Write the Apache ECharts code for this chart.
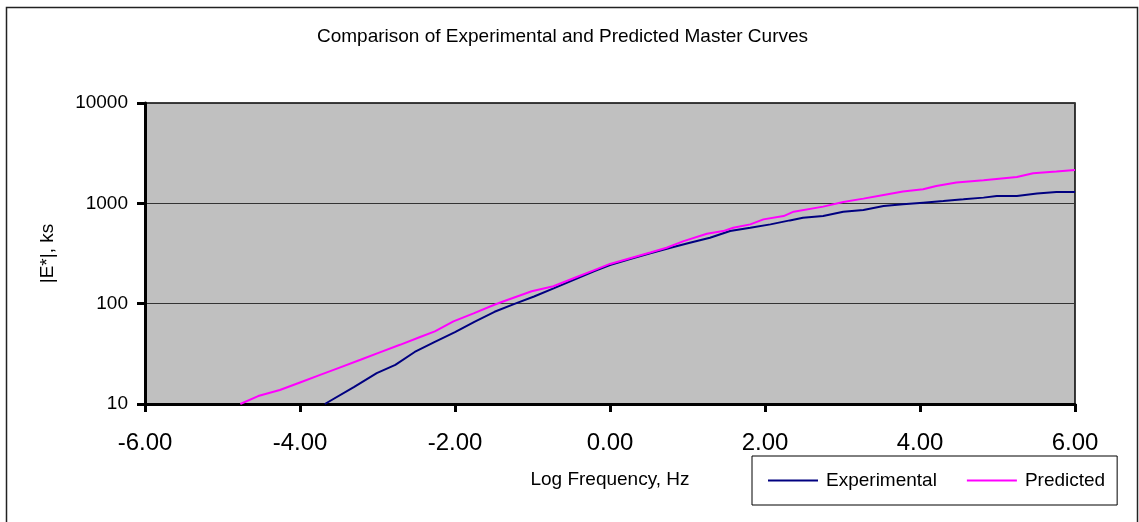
<!DOCTYPE html>
<html>
<head>
<meta charset="utf-8">
<script src="https://cdn.jsdelivr.net/npm/echarts@6/dist/echarts.min.js"></script>
<style>
    html, body { margin: 0; padding: 0; background: #fff; }
    #chart { width: 1139px; height: 522px; }
</style>
</head>
<body>
<div id="chart"></div>
<script>
// log frequency (Hz) and |E*| (ks)
var expX = [-3.68, -3.30, -3.01, -2.77, -2.52, -2.26, -2.00, -1.75, -1.49, -1.24, -0.98, -0.72, -0.46, -0.20, 0.00,
    0.26, 0.52, 0.77, 1.03, 1.29, 1.55, 1.81, 2.07, 2.32, 2.49, 2.75, 3.01, 3.27, 3.53, 3.78, 4.04, 4.30, 4.56, 4.82,
    4.99, 5.25, 5.51, 5.76, 6.00];
var expY = [10, 14.8, 20.3, 24.5, 33, 41.7, 52, 66, 83, 99, 118, 143, 174, 211, 243,
    279, 318, 359, 404, 454, 530, 571, 617, 676, 719, 747, 826, 857, 940, 977, 1016, 1055, 1096, 1140,
    1183, 1183, 1250, 1297, 1297];

var predX = [-4.77, -4.54, -4.26, -4.00, -3.74, -3.48, -3.22, -2.97, -2.71, -2.45, -2.26, -2.02, -1.76, -1.50, -1.38,
    -1.01, -0.73, -0.47, -0.21, 0.00, 0.26, 0.52, 0.73, 0.95, 1.25, 1.46, 1.59, 1.81, 1.98, 2.24, 2.37, 2.75, 3.01,
    3.27, 3.53, 3.78, 4.04, 4.21, 4.47, 4.82, 5.25, 5.46, 5.76, 6.00];
var predY = [10, 12.0, 13.8, 16.4, 19.5, 23.2, 27.6, 32.7, 38.9, 46.5, 52.9, 66.5, 80, 97, 105,
    133, 149, 179, 215, 249, 284, 324, 361, 420, 497, 529, 571, 617, 692, 747, 826, 927, 1031,
    1114, 1211, 1309, 1380, 1490, 1610, 1698, 1834, 1995, 2080, 2153];

var seriesNames = ['Experimental', 'Predicted'];

function pairs(xs, ys) {
    return xs.map(function (x, i) { return [x, ys[i]]; });
}

var chart = echarts.init(document.getElementById('chart'));
var option = {
    backgroundColor: '#fff',
    animation: false,
    textStyle: { fontFamily: 'Liberation Sans, Arial, sans-serif', color: '#000' },
    title: {
        text: 'Comparison of Experimental and Predicted Master Curves',
        left: 317,
        top: 27,
        padding: 0,
        textStyle: { fontSize: 19, fontWeight: 'normal', color: '#000' }
    },
    graphic: [{
        type: 'rect',
        shape: { x: 6.5, y: 7.5, width: 1131, height: 530 },
        style: { fill: 'none', stroke: '#222', lineWidth: 1.5 },
        silent: true
    }],
    legend: {
        left: 752,
        top: 456,
        orient: 'horizontal',
        padding: [15, 12, 15, 16],
        itemGap: 30,
        itemWidth: 50,
        itemHeight: 2,
        borderColor: '#000',
        borderWidth: 1,
        data: [
            { name: seriesNames[0], icon: 'rect' },
            { name: seriesNames[1], icon: 'rect' }
        ],
        textStyle: { fontSize: 19, color: '#000', padding: [0, 0, 0, 3] }
    },
    grid: {
        left: 145,
        right: 64,
        top: 103,
        bottom: 118,
        show: true,
        backgroundColor: '#C0C0C0',
        borderColor: '#000',
        borderWidth: 1.5
    },
    xAxis: {
        type: 'value',
        min: -6,
        max: 6,
        interval: 2,
        name: 'Log Frequency, Hz',
        nameLocation: 'middle',
        nameGap: 66,
        nameTextStyle: { fontSize: 19, color: '#000' },
        axisLine: { onZero: false, lineStyle: { color: '#000', width: 3 } },
        axisTick: { length: 8, lineStyle: { color: '#000', width: 3 } },
        axisLabel: {
            fontSize: 24,
            color: '#000',
            margin: 27,
            formatter: function (v) { return v.toFixed(2); }
        },
        splitLine: { show: false }
    },
    yAxis: {
        type: 'log',
        logBase: 10,
        min: 10,
        max: 10000,
        name: '|E*|, ks',
        nameLocation: 'middle',
        nameRotate: 90,
        nameGap: 88,
        nameTextStyle: { fontSize: 19, color: '#000' },
        axisLine: { onZero: false, lineStyle: { color: '#000', width: 3 } },
        axisTick: { length: 8, lineStyle: { color: '#000', width: 3 } },
        axisLabel: {
            fontSize: 19,
            color: '#000',
            margin: 17,
            formatter: function (v) { return String(Math.round(v)); }
        },
        splitLine: { show: true, lineStyle: { color: '#333', width: 1 } },
        minorTick: { show: false }
    },
    series: [
        {
            name: seriesNames[0],
            type: 'line',
            symbol: 'none',
            clip: true,
            itemStyle: { color: '#000080' },
            lineStyle: { color: '#000080', width: 2 },
            data: pairs(expX, expY)
        },
        {
            name: seriesNames[1],
            type: 'line',
            symbol: 'none',
            clip: true,
            itemStyle: { color: '#FF00FF' },
            lineStyle: { color: '#FF00FF', width: 2 },
            data: pairs(predX, predY)
        }
    ]
};
chart.setOption(option);
</script>
</body>
</html>
